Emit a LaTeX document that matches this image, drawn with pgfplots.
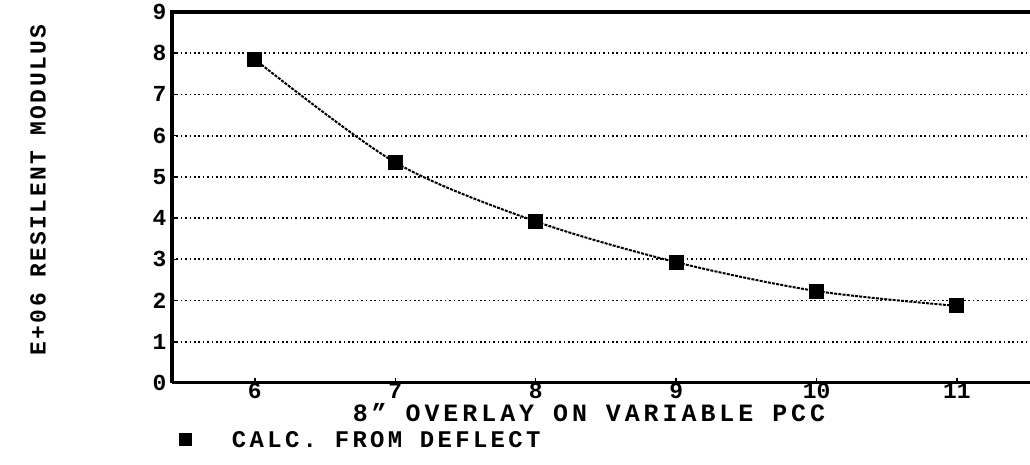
\documentclass[border=0pt]{standalone}
\usepackage{fontspec}
\setmainfont{Liberation Mono}
\usepackage{pgfplots}
\pgfplotsset{compat=1.18}
\begin{document}
\begin{tikzpicture}[x=1bp,y=1bp]
\useasboundingbox (-172,-82) rectangle (858,383);
\begin{axis}[
  at={(0,0)}, anchor=south west,
  scale only axis, width=858bp, height=371bp,
  xmin=5.41, xmax=11.52, ymin=0, ymax=9,
  xtick={6,7,8,9,10,11}, ytick={0,1,...,9},
  /pgf/number format/assume math mode=true,
  ymajorgrids, grid style={black, line width=1.8bp, dash pattern=on 1.6bp off 2.8bp},
  axis line style={draw=none},
  tick style={black, line width=1.5bp},
  major tick length=5bp,
  xtick pos=bottom, ytick pos=left,
  tick align=inside,
  ticklabel style={font=\fontsize{23}{23}\selectfont\bfseries},
  xticklabel style={yshift=3bp},
  yticklabel style={xshift=-2bp},
  xlabel={8\symbol{34} OVERLAY ON VARIABLE PCC},
  xlabel style={at={(axis description cs:0.486,-0.08)}, anchor=center, inner sep=0pt, text depth=0pt,
    font=\fontsize{25}{25}\selectfont\bfseries\addfontfeature{LetterSpace=16}},
  ylabel={E+06 RESILENT MODULUS},
  ylabel style={at={(axis description cs:-0.156,0.52)}, anchor=center, rotate=0, font=\fontsize{23}{23}\selectfont\bfseries\addfontfeature{LetterSpace=10}},
  legend style={at={(axis description cs:0.0,-0.152)}, anchor=west, draw=none, fill=none,
    inner sep=0pt, outer sep=0pt, nodes={inner sep=0pt, text depth=0pt},
    font=\fontsize{24}{24}\selectfont\bfseries\addfontfeature{LetterSpace=14}},
  legend image code/.code={\path[draw=none] (0,0) -- (60bp,0); \node[solid,draw=black,fill=black,rectangle,inner sep=0pt,minimum size=11bp] at (14bp,0) {};},
  after end axis/.code={
    \draw[black, line width=4bp] (rel axis cs:0,0) -- (rel axis cs:0,1) -- (rel axis cs:1,1);
    \draw[black, line width=3bp] (rel axis cs:0,0) -- (rel axis cs:1,0);
  },
]
\addplot[black, line width=2bp, dash pattern=on 3bp off 1.2bp, smooth, tension=0.5,
  mark=square*, mark size=6.5bp, mark options={solid, fill=black}]
  coordinates {(6,7.85) (7,5.35) (8,3.92) (9,2.93) (10,2.23) (11,1.87)};
\addlegendentry{CALC. FROM DEFLECT}
\end{axis}
\end{tikzpicture}
\end{document}
